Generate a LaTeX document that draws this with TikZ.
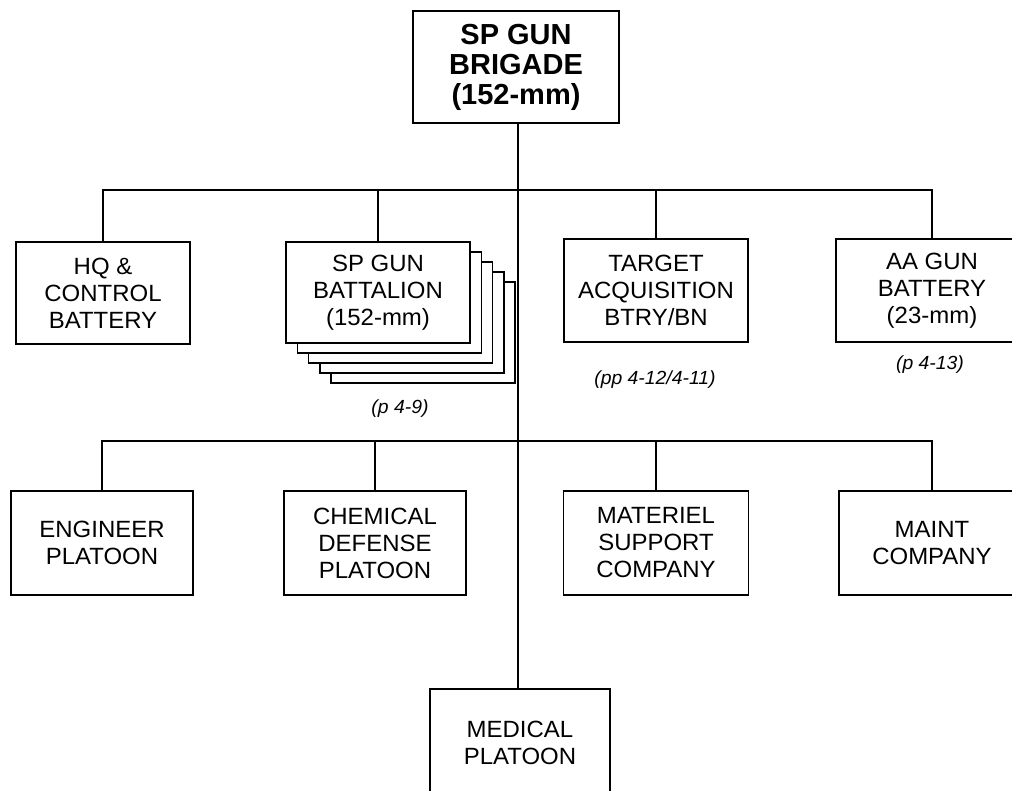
\documentclass[tikz,border=0pt]{standalone}
\usepackage{fontspec}
\setmainfont[FakeStretch=1.02]{Liberation Sans}
\newfontfamily\hdfam{Liberation Sans}
\begin{document}
\begin{tikzpicture}[x=1pt,y=-1pt,
  line width=1.5pt,
  box/.style={draw=black, fill=white, align=center, inner sep=0pt,
    font=\fontsize{23.5}{27}\selectfont},
  stackbox/.style={draw=black, fill=white, inner sep=0pt,
    minimum width=184pt, minimum height=101pt},
  pageref/.style={inner sep=0pt, font=\fontsize{19}{22}\selectfont\itshape},
  link/.style={line width=1.5pt}]
\useasboundingbox (0,0) rectangle (1012,790);
\clip (0,0) rectangle (1012,790);
\fill[white] (0,0) rectangle (1012,790);

% top
\node[box, minimum width=206pt, minimum height=112pt,
  font=\hdfam\bfseries\fontsize{29}{30}\selectfont] (top) at (516,67)
  {SP GUN\\BRIGADE\\(152-mm)};

% bus coordinates
\coordinate (trunk) at (518,0);
\coordinate (bus1) at (518,190);
\coordinate (bus2) at (518,441);

% second row
\node[box, minimum width=174pt, minimum height=102pt] (hq) at (103,293)
  {HQ \&\\CONTROL\\BATTERY};
\node[stackbox] (s4) at (378+45.2,292.5+40) {};
\node[stackbox] (s3) at (378+33.9,292.5+30) {};
\node[stackbox] (s2) at (378+22.6,292.5+20) {};
\node[stackbox] (s1) at (378+11.3,292.5+10) {};
\node[box, minimum width=184pt, minimum height=101pt] (spbn) at (378,292.5)
  {SP GUN\\BATTALION\\(152-mm)};
\node[box, minimum width=184pt, minimum height=103pt] (tgt) at (656,290.5)
  {TARGET\\ACQUISITION\\BTRY/BN};
\node[box, minimum width=192pt, minimum height=103pt] (aa) at (932,290.5)
  {AA GUN\\BATTERY\\(23-mm)};

\node[pageref] (r1) at (400,409) {(p 4-9)};
\node[pageref] (r2) at (655,380) {(pp 4-12/4-11)};
\node[pageref] (r3) at (930,365) {(p 4-13)};

% third row
\node[box, minimum width=182pt, minimum height=104pt] (eng) at (102,543)
  {ENGINEER\\PLATOON};
\node[box, minimum width=182pt, minimum height=104pt] (chem) at (375,543)
  {CHEMICAL\\DEFENSE\\PLATOON};
\node[box, minimum width=185pt, minimum height=104pt] (mat) at (656,543)
  {MATERIEL\\SUPPORT\\COMPANY};
\node[box, minimum width=186pt, minimum height=104pt] (maint) at (932,543)
  {MAINT\\COMPANY};

% bottom
\node[box, minimum width=180pt, minimum height=108pt] (med) at (520,743)
  {MEDICAL\\PLATOON};

% connectors
\draw[link] (top.south -| trunk) -- (med.north -| trunk);
\draw[link] (hq.north) |- (bus1) -| (aa.north);
\draw[link] (spbn.north) -- (spbn.north |- bus1);
\draw[link] (tgt.north) -- (tgt.north |- bus1);
\draw[link] (eng.north) |- (bus2) -| (maint.north);
\draw[link] (chem.north) -- (chem.north |- bus2);
\draw[link] (mat.north) -- (mat.north |- bus2);
\end{tikzpicture}
\end{document}
